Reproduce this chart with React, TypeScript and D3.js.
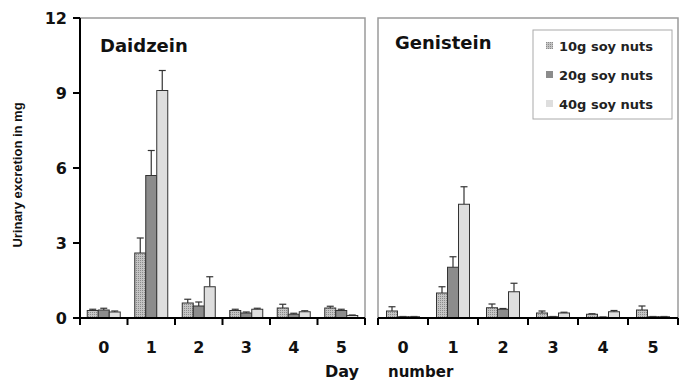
import React from "react"
import * as d3 from "d3"

// data (mg, mean and upper SE)
const days = ["0", "1", "2", "3", "4", "5"]
const series = ["10g soy nuts", "20g soy nuts", "40g soy nuts"]
const yTicks = [0, 3, 6, 9, 12]

const daidzein10 = [0.3, 2.6, 0.6, 0.3, 0.4, 0.4]
const daidzein20 = [0.32, 5.7, 0.48, 0.2, 0.15, 0.3]
const daidzein40 = [0.24, 9.1, 1.25, 0.35, 0.25, 0.1]
const daidzeinErr10 = [0.05, 0.6, 0.15, 0.05, 0.15, 0.07]
const daidzeinErr20 = [0.07, 1.0, 0.16, 0.04, 0.04, 0.05]
const daidzeinErr40 = [0.04, 0.8, 0.4, 0.04, 0.04, 0.02]

const genistein10 = [0.28, 1.0, 0.41, 0.2, 0.15, 0.32]
const genistein20 = [0.05, 2.03, 0.35, 0.05, 0.03, 0.05]
const genistein40 = [0.05, 4.55, 1.05, 0.2, 0.25, 0.05]
const genisteinErr10 = [0.17, 0.25, 0.15, 0.08, 0.02, 0.16]
const genisteinErr20 = [0.01, 0.42, 0.03, 0.01, 0.01, 0.01]
const genisteinErr40 = [0.01, 0.7, 0.34, 0.03, 0.05, 0.01]

const fills = ["url(#dots)", "#8c8c8c", "#dedede"]
const font = "'DejaVu Sans', sans-serif"

const top = 18
const bottom = 318
const y = d3.scaleLinear().domain([0, 12]).range([bottom, top])

function Panel({ x0, x1, title, titleX, titleY, values, errors, showY }) {
  const xBand = d3.scaleBand().domain(days).range([x0, x1])
  const bw = xBand.bandwidth()
  const barW = 11
  const inner = d3
    .scaleBand()
    .domain(series)
    .range([(bw - barW * 3) / 2, (bw + barW * 3) / 2])

  return (
    <g>
      {/* grey frame */}
      <rect x={x0} y={top} width={x1 - x0} height={bottom - top} fill="none" stroke="#9a9a9a" strokeWidth={1.5} />
      <text x={titleX} y={titleY} fontFamily={font} fontWeight="bold" fontSize={18} fill="#111">
        {title}
      </text>

      {series.map((s, si) =>
        days.map((d, di) => {
          const v = values[si][di]
          const e = errors[si][di]
          const bx = xBand(d) + inner(s)
          const cx = bx + barW / 2
          return (
            <g key={s + d}>
              <line x1={cx} x2={cx} y1={y(v)} y2={y(v + e)} stroke="#333" strokeWidth={1.2} />
              <line x1={cx - 3.5} x2={cx + 3.5} y1={y(v + e)} y2={y(v + e)} stroke="#333" strokeWidth={1.2} />
              <rect x={bx} y={y(v)} width={barW} height={bottom - y(v)} fill={fills[si]} stroke="#333" strokeWidth={1} />
            </g>
          )
        })
      )}

      {/* x axis */}
      <line x1={x0} x2={x1} y1={bottom} y2={bottom} stroke="#000" strokeWidth={2} />
      {[...days.map((d) => xBand(d)), x1].map((t, i) => (
        <line key={i} x1={t} x2={t} y1={bottom} y2={bottom + 7} stroke="#000" strokeWidth={2} />
      ))}
      {days.map((d) => (
        <text
          key={d}
          x={xBand(d) + bw / 2}
          y={353}
          textAnchor="middle"
          fontFamily={font}
          fontWeight="bold"
          fontSize={16}
          fill="#111"
        >
          {d}
        </text>
      ))}

      {showY && (
        <g>
          <line x1={x0} x2={x0} y1={top} y2={bottom + 7} stroke="#000" strokeWidth={2} />
          {yTicks.map((t) => (
            <g key={t}>
              <line x1={x0 - 7} x2={x0} y1={y(t)} y2={y(t)} stroke="#000" strokeWidth={2} />
              <text
                x={x0 - 13}
                y={y(t)}
                dy="0.36em"
                textAnchor="end"
                fontFamily={font}
                fontWeight="bold"
                fontSize={16}
                fill="#111"
              >
                {t}
              </text>
            </g>
          ))}
        </g>
      )}
    </g>
  )
}

export default function App() {
  const W = 679
  const H = 381
  const legendX = 533
  const legendY = 30

  return (
    <svg width={W} height={H} style={{ position: "absolute", left: 0, top: 0, background: "#fff" }}>
      <defs>
        <pattern id="dots" width={2} height={2} patternUnits="userSpaceOnUse">
          <rect width={2} height={2} fill="#c4c4c4" />
          <rect width={1} height={1} fill="#8a8a8a" />
        </pattern>
      </defs>
      <rect width={W} height={H} fill="#fff" />

      <Panel
        x0={80}
        x1={365}
        title="Daidzein"
        titleX={100}
        titleY={52}
        values={[daidzein10, daidzein20, daidzein40]}
        errors={[daidzeinErr10, daidzeinErr20, daidzeinErr40]}
        showY
      />
      <Panel
        x0={378}
        x1={678}
        title="Genistein"
        titleX={395}
        titleY={49}
        values={[genistein10, genistein20, genistein40]}
        errors={[genisteinErr10, genisteinErr20, genisteinErr40]}
        showY={false}
      />

      {/* legend */}
      <rect x={legendX} y={legendY} width={139} height={89} fill="#fff" stroke="#aaa" strokeWidth={1} />
      {series.map((s, i) => (
        <g key={s} transform={`translate(${legendX + 13},${legendY + 16 + i * 29})`}>
          <rect x={0} y={-4} width={7} height={7} fill={fills[i]} />
          <text x={13} y={0} dy="0.36em" fontFamily={font} fontWeight="bold" fontSize={13} fill="#222">
            {s}
          </text>
        </g>
      ))}

      <text
        transform="translate(22,175) rotate(-90)"
        textAnchor="middle"
        fontFamily="'Liberation Sans', Arial, sans-serif"
        fontWeight="bold"
        fontSize={13}
        fill="#111"
      >
        Urinary excretion in mg
      </text>
      <text x={325} y={377} fontFamily={font} fontWeight="bold" fontSize={16} fill="#111">
        Day
      </text>
      <text x={388} y={377} fontFamily={font} fontWeight="bold" fontSize={15} fill="#111">
        number
      </text>
    </svg>
  )
}
